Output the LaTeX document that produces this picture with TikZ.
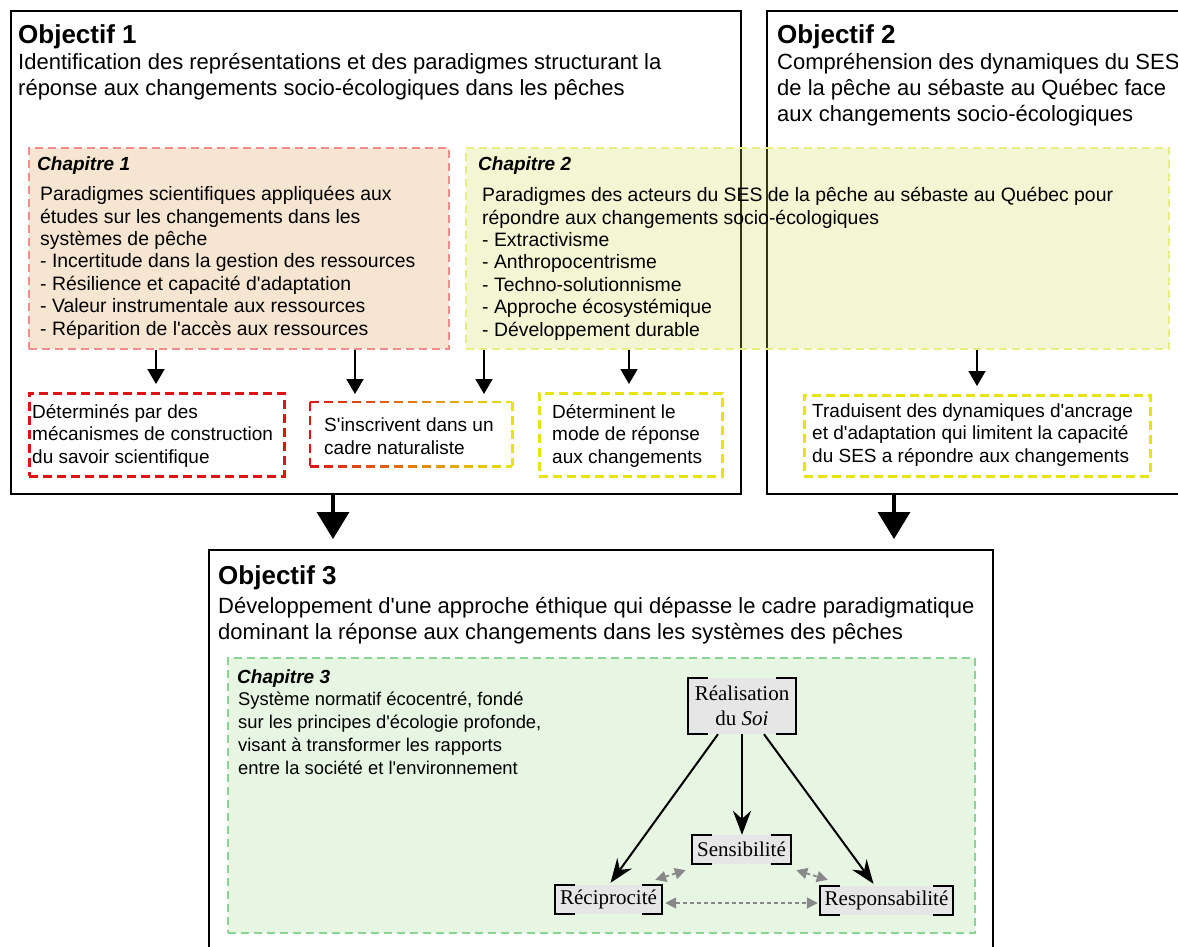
\documentclass[tikz,border=0pt]{standalone}
\usepackage{fontspec}
\setmainfont{Liberation Sans}
\newfontfamily\seriffont{Liberation Serif}
\usetikzlibrary{arrows.meta}
\newcommand\q{\textquotesingle}
\definecolor{chapAfill}{RGB}{246,229,208}
\definecolor{chapAline}{RGB}{240,140,140}
\definecolor{chapBfill}{RGB}{207,219,75}
\definecolor{chapBline}{RGB}{234,238,130}
\definecolor{chapCfill}{RGB}{231,246,227}
\definecolor{chapCline}{RGB}{140,212,150}
\definecolor{redline}{RGB}{222,20,20}
\definecolor{yelline}{RGB}{230,228,10}
\definecolor{nodegray}{RGB}{230,230,230}
\definecolor{dotgray}{RGB}{136,136,136}
\newcommand\brk[1]{%
  \draw[brkline] ([xshift=20pt]#1.north west) -- (#1.north west) -- (#1.south west) -- ([xshift=20pt]#1.south west);
  \draw[brkline] ([xshift=-20pt]#1.north east) -- (#1.north east) -- (#1.south east) -- ([xshift=-20pt]#1.south east);}
\begin{document}
\begin{tikzpicture}[x=1pt,y=-1pt,
  objbox/.style={draw=black, line width=2pt, anchor=north west, inner sep=0pt},
  chapbox/.style={anchor=north west, inner sep=0pt, line width=1.6pt, dash pattern=on 8pt off 5pt},
  smallbox/.style={anchor=north west, inner sep=0pt, fill=white, line width=2.8pt, dash pattern=on 9pt off 5pt},
  ttl/.style={anchor=base west, inner sep=0pt, font=\fontsize{26}{30}\selectfont\bfseries},
  objtxt/.style={anchor=base west, inner sep=0pt, align=left, font=\fontsize{22}{26}\selectfont},
  chaplbl/.style={anchor=base west, inner sep=0pt, font=\fontsize{19}{22}\selectfont\bfseries\itshape},
  chaptxt/.style={anchor=base west, inner sep=0pt, align=left, font=\fontsize{19.4}{22.4}\selectfont},
  boxtxt/.style={anchor=base west, inner sep=0pt, align=left, font=\fontsize{19}{22.5}\selectfont},
  cthreetxt/.style={anchor=base west, inner sep=0pt, align=left, font=\fontsize{18.4}{22.7}\selectfont},
  concept/.style={fill=nodegray, inner sep=0pt, align=center, font=\seriffont\fontsize{21}{25}\selectfont},
  brkline/.style={line width=1.9pt, black},
  smallarrow/.style={-{Triangle[length=15pt,width=17pt]}, line width=1.8pt, shorten >=8pt},
  bigarrow/.style={-{Triangle[length=27pt,width=32pt]}, line width=3.5pt, shorten >=10pt},
  blackarrow/.style={-{Stealth[length=24pt,width=18pt,inset=8pt]}, line width=2pt},
  dotarrow/.style={{Triangle[length=11pt,width=11pt]}-{Triangle[length=11pt,width=11pt]}, dotgray, line width=1.8pt, dash pattern=on 4pt off 3pt},
]
\useasboundingbox (0,0) rectangle (1178,946);
\clip (0,0) rectangle (1178,946);

% objective frames
\node[objbox, minimum width=730pt, minimum height=483pt] (obj1) at (10,10) {};
\node[objbox, minimum width=440pt, minimum height=483pt] (obj2) at (766,10) {};
\node[objbox, minimum width=784pt, minimum height=430pt] (obj3) at (208,549) {};

% multi-line texts are placed by the baseline of their last line
\node[ttl] (obj1t) at (18,43.5) {Objectif 1};
\node[objtxt] (obj1b) at (18,95.5) {Identification des représentations et des paradigmes structurant la\\réponse aux changements socio-écologiques dans les pêches};
\node[ttl] (obj2t) at (777,43.5) {Objectif 2};
\node[objtxt] (obj2b) at (777,121.5) {Compréhension des dynamiques du SES\\de la pêche au sébaste au Québec face\\aux changements socio-écologiques};
\node[ttl] (obj3t) at (218,584.5) {Objectif 3};
\node[objtxt] (obj3b) at (218,639) {Développement d\q une approche éthique qui dépasse le cadre paradigmatique\\dominant la réponse aux changements dans les systèmes des pêches};

% chapter 1
\node[chapbox, fill=chapAfill, draw=chapAline, minimum width=420pt, minimum height=201pt] (chap1) at (28,147) {};
\node[chaplbl] (chap1l) at (37,170) {Chapitre 1};
\node[chaptxt] (chap1b) at (40,335) {Paradigmes scientifiques appliquées aux\\études sur les changements dans les\\systèmes de pêche\\- Incertitude dans la gestion des ressources\\- Résilience et capacité d\q adaptation\\- Valeur instrumentale aux ressources\\- Réparition de l\q accès aux ressources};

% chapter 2 (translucent, the frames show through)
\node[chapbox, fill=chapBfill, fill opacity=0.25, draw=chapBline, minimum width=703pt, minimum height=201pt] (chap2) at (465,147) {};
\node[chaplbl] (chap2l) at (478,170) {Chapitre 2};
\node[chaptxt] (chap2b) at (482,336) {Paradigmes des acteurs du SES de la pêche au sébaste au Québec pour\\répondre aux changements socio-écologiques\\- Extractivisme\\- Anthropocentrisme\\- Techno-solutionnisme\\- Approche écosystémique\\- Développement durable};

% outcome boxes
\node[smallbox, draw=redline, minimum width=255pt, minimum height=83pt] (b1) at (28,392) {};
\node[boxtxt] (b1t) at (32,463) {Déterminés par des\\mécanismes de construction\\du savoir scientifique};

\node[anchor=north west, inner sep=0pt, fill=white, minimum width=202pt, minimum height=64pt] (b2) at (310,402) {};
\foreach \i in {0,...,14}{
  \pgfmathsetmacro\xa{14*\i}
  \pgfmathsetmacro\xb{min(14*\i+9,202)}
  \pgfmathtruncatemacro\pc{(14*\i+4.5)/202*100}
  \draw[line width=2.8pt, color=yelline!\pc!redline]
    ([xshift=\xa pt]b2.north west) -- ([xshift=\xb pt]b2.north west)
    ([xshift=\xa pt]b2.south west) -- ([xshift=\xb pt]b2.south west);
}
\draw[line width=2.8pt, redline, dash pattern=on 9pt off 5pt] (b2.north west) -- (b2.south west);
\draw[line width=2.8pt, yelline, dash pattern=on 9pt off 5pt] (b2.north east) -- (b2.south east);
\node[boxtxt] (b2t) at (324,454) {S\q inscrivent dans un\\cadre naturaliste};

\node[smallbox, draw=yelline, minimum width=183pt, minimum height=83pt] (b3) at (538,392) {};
\node[boxtxt] (b3t) at (552,463) {Déterminent le\\mode de réponse\\aux changements};

\node[smallbox, draw=yelline, minimum width=346pt, minimum height=81pt] (b4) at (803,394) {};
\node[boxtxt] (b4t) at (812,462) {Traduisent des dynamiques d\q ancrage\\et d\q adaptation qui limitent la capacité\\du SES a répondre aux changements};

% small arrows
\draw[smallarrow] (chap1.south -| 156,0) -- (b1.north -| 156,0);
\draw[smallarrow] (chap1.south -| 355,0) -- (b2.north -| 355,0);
\draw[smallarrow] (chap2.south -| 484,0) -- (b2.north -| 484,0);
\draw[smallarrow] (chap2.south -| 629,0) -- (b3.north -| 629,0);
\draw[smallarrow] (chap2.south -| 977,0) -- (b4.north -| 977,0);

% big arrows
\draw[bigarrow] (obj1.south -| 333,0) -- (obj3.north -| 333,0);
\draw[bigarrow] (obj2.south -| 894,0) -- (obj3.north -| 894,0);

% chapter 3
\node[chapbox, fill=chapCfill, draw=chapCline, minimum width=747pt, minimum height=275pt] (chap3) at (227,657) {};
\node[chaplbl] (chap3l) at (237,683) {Chapitre 3};
\node[cthreetxt] (chap3b) at (238,774) {Système normatif écocentré, fondé\\sur les principes d\q écologie profonde,\\visant à transformer les rapports\\entre la société et l\q environnement};

% concept triangle
\node[concept, minimum width=108pt, minimum height=56pt] (real) at (742,706) {Réalisation\\du \textit{Soi}};
\node[concept, minimum width=99pt, minimum height=29pt] (sens) at (741.5,849.5) {Sensibilité};
\node[concept, minimum width=107pt, minimum height=29pt] (reci) at (608.5,899.5) {Réciprocité};
\node[concept, minimum width=133pt, minimum height=29pt] (resp) at (886.5,900.5) {Responsabilité};
\brk{real}
\brk{sens}
\brk{reci}
\brk{resp}

\draw[blackarrow] ([xshift=-24pt]real.south) -- ([xshift=2pt,yshift=2pt]reci.north);
\draw[blackarrow] (real.south) -- (real.south |- sens.north);
\draw[blackarrow] ([xshift=22pt]real.south) -- ([xshift=-13pt,yshift=2pt]resp.north);

\draw[dotarrow] ([xshift=-7pt,yshift=5pt]reci.north east) -- ([xshift=-6pt,yshift=-6pt]sens.south west);
\draw[dotarrow] ([xshift=5pt,yshift=-6pt]sens.south east) -- ([xshift=8pt,yshift=6pt]resp.north west);
\draw[dotarrow] ([xshift=3pt,yshift=-3.5pt]reci.east) -- ([xshift=-2pt,yshift=-2.5pt]resp.west);
\end{tikzpicture}
\end{document}
